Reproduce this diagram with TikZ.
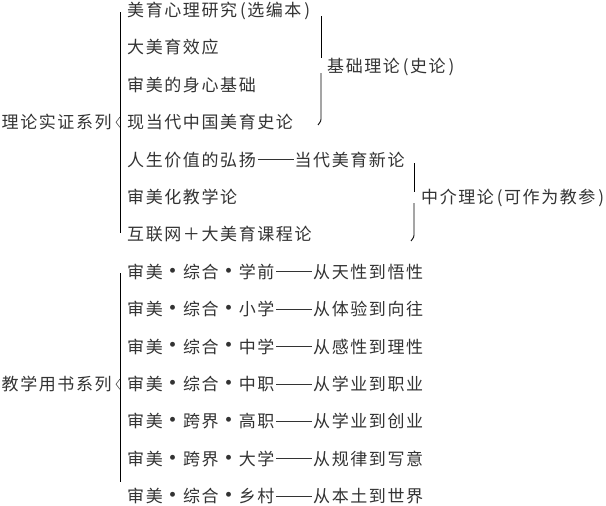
\documentclass[tikz,border=0pt]{standalone}
\usepackage{fontspec}
\setmainfont{Noto Sans CJK SC}
\newlength\pitch \setlength\pitch{18.6pt}
\makeatletter
\def\sp@end{\sp@end}
\def\sp#1{\sp@a#1\sp@end}
\def\sp@a#1{\ifx#1\sp@end\else\makebox[\pitch][l]{#1}\expandafter\sp@a\fi}
\makeatother
\newcommand\dd{\makebox[2\pitch][l]{\hspace{0.5pt}\rule[6.1pt]{\dimexpr2\pitch-1.5pt\relax}{0.7pt}}}
\newcommand\dt{\makebox[\pitch][c]{\hspace{-1pt}\raisebox{-0.8pt}{\fontsize{23}{23}\selectfont •}}}
\newcommand\lp{\makebox[8.5pt][c]{(}}
\newcommand\rp{\makebox[8.5pt][c]{)}}
\definecolor{txt}{HTML}{333333}
\tikzset{
  row/.style={anchor=base west, inner sep=0pt, text=txt, font=\fontsize{17}{18}\selectfont},
  bracel/.style={draw=black, line width=0.9pt},
  notch/.style={draw=black!70, line width=0.6pt},
}
\begin{document}
\begin{tikzpicture}[x=1pt,y=-1pt]
\useasboundingbox[fill=white] (0,0) rectangle (606,506);
% rows: centre y = 10 + 37.4 i, baseline = centre + 6.4
\node[row] (r0)  at (127, 16.4)  {\sp{美育心理研究}\lp\sp{选编本}\rp};
\node[row] (r1)  at (127, 53.8)  {\sp{大美育效应}};
\node[row] (r2)  at (127, 91.2)  {\sp{审美的身心基础}};
\node[row] (r3)  at (127, 128.6) {\sp{现当代中国美育史论}};
\node[row] (r4)  at (127, 166.0) {\sp{人生价值的弘扬}\dd\sp{当代美育新论}};
\node[row] (r5)  at (127, 203.4) {\sp{审美化教学论}};
\node[row] (r6)  at (127, 240.8) {\sp{互联网＋大美育课程论}};
\node[row] (r7)  at (127, 278.2) {\sp{审美}\dt\sp{综合}\dt\sp{学前}\dd\sp{从天性到悟性}};
\node[row] (r8)  at (127, 315.6) {\sp{审美}\dt\sp{综合}\dt\sp{小学}\dd\sp{从体验到向往}};
\node[row] (r9)  at (127, 353.0) {\sp{审美}\dt\sp{综合}\dt\sp{中学}\dd\sp{从感性到理性}};
\node[row] (r10) at (127, 390.4) {\sp{审美}\dt\sp{综合}\dt\sp{中职}\dd\sp{从学业到职业}};
\node[row] (r11) at (127, 427.8) {\sp{审美}\dt\sp{跨界}\dt\sp{高职}\dd\sp{从学业到创业}};
\node[row] (r12) at (127, 465.2) {\sp{审美}\dt\sp{跨界}\dt\sp{大学}\dd\sp{从规律到写意}};
\node[row] (r13) at (127, 502.6) {\sp{审美}\dt\sp{综合}\dt\sp{乡村}\dd\sp{从本土到世界}};
% group labels
\node[row] (g1) at (1.5, 128.6) {\sp{理论实证系列}};
\node[row] (g2) at (1.5, 390.4) {\sp{教学用书系列}};
\node[row] (s1) at (327, 72.4) {\sp{基础理论}\lp\sp{史论}\rp};
\node[row] (s2) at (421, 203.4) {\sp{中介理论}\lp\sp{可作为教参}\rp};
% left braces
\draw[bracel] (120,12) -- (120,233);
\draw[notch] (120,117) -- (116,122.2) -- (120,127.4);
\draw[bracel] (120,273) -- (120,482);
\draw[notch] (120,379) -- (116,384.2) -- (120,389.4);
% right braces
\draw[bracel] (321,16) -- (321,58);
\draw[bracel] (321,73) -- (321,117) .. controls (321,121) .. (318,125);
\draw[bracel] (414,163) -- (414,192);
\draw[bracel] (414,203) -- (414,233) .. controls (414,237) .. (411,241);
\end{tikzpicture}
\end{document}
